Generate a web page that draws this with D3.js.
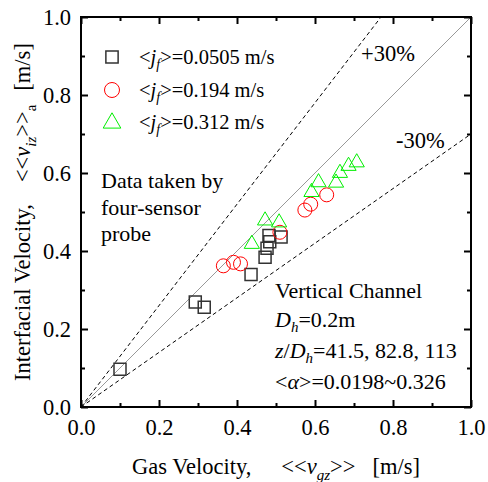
<!DOCTYPE html>
<html>
<head>
<meta charset="utf-8">
<script src="https://cdn.jsdelivr.net/npm/d3@7"></script>
<style>
  body { margin: 0; background: #fff; }
  svg text { font-family: "Liberation Serif", "Times New Roman", serif; white-space: pre; }
</style>
</head>
<body>
<div id="chart"></div>
<script>
// measured points [gas velocity, interfacial velocity]
const squares = [[0.100, 0.097], [0.293, 0.269], [0.316, 0.256], [0.436, 0.340], [0.472, 0.384],
  [0.477, 0.407], [0.484, 0.424], [0.482, 0.440], [0.513, 0.436]]
const circles = [[0.365, 0.362], [0.391, 0.371], [0.409, 0.367], [0.510, 0.448],
  [0.574, 0.505], [0.589, 0.520], [0.630, 0.544]]
const triangles = [[0.438, 0.418], [0.472, 0.478], [0.508, 0.473], [0.591, 0.551], [0.609, 0.576],
  [0.654, 0.575], [0.664, 0.600], [0.686, 0.618], [0.707, 0.627]]
const legendValues = ['0.0505', '0.194', '0.312']
const majorTicks = [0, 0.2, 0.4, 0.6, 0.8, 1.0]
const minorTicks = [0.1, 0.3, 0.5, 0.7, 0.9]
const bandRatios = [1.3, 0.7]

const width = 488, height = 482
const x = d3.scaleLinear().domain([0, 1]).range([81, 471])
const y = d3.scaleLinear().domain([0, 1]).range([407, 17])

const svg = d3.select('#chart').append('svg')
  .attr('width', width).attr('height', height)

// reference lines
svg.append('line')
  .attr('x1', x(0)).attr('y1', y(0)).attr('x2', x(1)).attr('y2', y(1))
  .attr('stroke', '#999').attr('stroke-width', 1)

svg.selectAll('.band').data(bandRatios).join('line')
  .attr('x1', x(0)).attr('y1', y(0))
  .attr('x2', r => x(Math.min(1, 1 / r)))
  .attr('y2', r => y(Math.min(1, r)))
  .attr('stroke', '#000').attr('stroke-width', 1)
  .attr('stroke-dasharray', '4,3')

// markers
const symSquare = d3.symbol(d3.symbolSquare, 144)
const symTri = d3.symbol(d3.symbolTriangle, 100)

svg.append('g').selectAll('path').data(squares).join('path')
  .attr('d', symSquare)
  .attr('transform', d => `translate(${x(d[0])},${y(d[1])})`)
  .attr('fill', 'none').attr('stroke', '#333').attr('stroke-width', 1.5)

svg.append('g').selectAll('circle').data(circles).join('circle')
  .attr('cx', d => x(d[0])).attr('cy', d => y(d[1])).attr('r', 7)
  .attr('fill', 'none').attr('stroke', '#ff0000').attr('stroke-width', 1)

svg.append('g').selectAll('path').data(triangles).join('path')
  .attr('d', symTri)
  .attr('transform', d => `translate(${x(d[0])},${y(d[1])})`)
  .attr('fill', 'none').attr('stroke', '#00ee00').attr('stroke-width', 1)

// axes (ticks inside, mirrored)
function addAxis(axis, tx, ty, labels) {
  const g = svg.append('g').attr('transform', `translate(${tx},${ty})`)
  g.call(axis.tickValues(minorTicks).tickSize(-4).tickFormat(''))
  const g2 = svg.append('g').attr('transform', `translate(${tx},${ty})`)
  g2.call(axis.tickValues(majorTicks).tickSize(-7).tickPadding(10).tickFormat(labels ? d3.format('.1f') : ''))
  ;[g, g2].forEach(gg => {
    gg.select('.domain').remove()
    gg.selectAll('line').attr('stroke', '#000').attr('stroke-width', 2)
    gg.selectAll('text').style('font-size', '22.5px').attr('fill', '#000')
  })
  return g2
}
const bx = addAxis(d3.axisBottom(x), 0, y(0), true)
bx.selectAll('text').attr('dy', '0.8em')
addAxis(d3.axisTop(x), 0, y(1), false)
addAxis(d3.axisLeft(y), x(0), 0, true)
addAxis(d3.axisRight(y), x(1), 0, false)

svg.append('rect')
  .attr('x', x(0)).attr('y', y(1)).attr('width', x(1) - x(0)).attr('height', y(0) - y(1))
  .attr('fill', 'none').attr('stroke', '#000').attr('stroke-width', 2)

// axis titles
const xt = svg.append('text').attr('x', 276).attr('y', 474)
  .attr('text-anchor', 'middle').style('font-size', '22.5px')
xt.append('tspan').text('Gas Velocity,')
xt.append('tspan').attr('dx', 30).text('<<')
xt.append('tspan').attr('font-style', 'italic').text('v')
xt.append('tspan').attr('font-style', 'italic').style('font-size', '15px').attr('dy', 6).text('gz')
xt.append('tspan').attr('dy', -6).text('>>')
xt.append('tspan').attr('dx', 17).text('[m/s]')

const yt = svg.append('text')
  .attr('transform', `translate(30,${(y(0) + y(1)) / 2}) rotate(-90)`)
  .attr('text-anchor', 'middle').style('font-size', '22.5px')
yt.append('tspan').text('Interfacial Velocity,')
yt.append('tspan').attr('dx', 22).text('<<')
yt.append('tspan').attr('font-style', 'italic').text('v')
yt.append('tspan').attr('font-style', 'italic').style('font-size', '15px').attr('dy', 6).text('iz')
yt.append('tspan').attr('dy', -6).text('>>')
yt.append('tspan').style('font-size', '15px').attr('dy', 6).text('a')
yt.append('tspan').attr('dy', -6).attr('dx', 14).text('[m/s]')

// band labels
svg.append('text').attr('x', 361).attr('y', 61).style('font-size', '22.5px').text('+30%')
svg.append('text').attr('x', 396).attr('y', 148).style('font-size', '22.5px').text('-30%')

// legend
const legendRows = [
  { y: 57, mark: 'square' },
  { y: 90, mark: 'circle' },
  { y: 122, mark: 'triangle' },
]
legendRows.forEach((row, i) => {
  if (row.mark === 'square') {
    svg.append('path').attr('d', d3.symbol(d3.symbolSquare, 150))
      .attr('transform', `translate(112,${row.y})`)
      .attr('fill', 'none').attr('stroke', '#333').attr('stroke-width', 1.5)
  } else if (row.mark === 'circle') {
    svg.append('circle').attr('cx', 112).attr('cy', row.y).attr('r', 7.5)
      .attr('fill', 'none').attr('stroke', '#ff0000').attr('stroke-width', 1)
  } else {
    svg.append('path').attr('d', d3.symbol(d3.symbolTriangle, 135))
      .attr('transform', `translate(112,${row.y + 1})`)
      .attr('fill', 'none').attr('stroke', '#00ee00').attr('stroke-width', 1)
  }
  const t = svg.append('text').attr('x', 139).attr('y', row.y + 7).style('font-size', '20.5px')
  t.append('tspan').text('<')
  t.append('tspan').attr('font-style', 'italic').text('j')
  t.append('tspan').attr('font-style', 'italic').style('font-size', '14px').attr('dy', 5).text('f')
  t.append('tspan').attr('dy', -5).text('>=' + legendValues[i] + ' m/s')
})

// notes
const note1 = ['Data taken by', 'four-sensor', 'probe']
note1.forEach((s, i) => {
  svg.append('text').attr('x', 101).attr('y', 188 + i * 26.5).style('font-size', '22px').text(s)
})

const n = svg.append('g').style('font-size', '22px')
n.append('text').attr('x', 275).attr('y', 298).text('Vertical Channel')
const l2 = n.append('text').attr('x', 275).attr('y', 327)
l2.append('tspan').attr('font-style', 'italic').text('D')
l2.append('tspan').attr('font-style', 'italic').style('font-size', '15px').attr('dy', 5).text('h')
l2.append('tspan').attr('dy', -5).text('=0.2m')
const l3 = n.append('text').attr('x', 275).attr('y', 358)
l3.append('tspan').attr('font-style', 'italic').text('z')
l3.append('tspan').text('/')
l3.append('tspan').attr('font-style', 'italic').text('D')
l3.append('tspan').attr('font-style', 'italic').style('font-size', '15px').attr('dy', 5).text('h')
l3.append('tspan').attr('dy', -5).text('=41.5, 82.8, 113')
const l4 = n.append('text').attr('x', 275).attr('y', 389)
l4.append('tspan').text('<')
l4.append('tspan').attr('font-style', 'italic').text('α')
l4.append('tspan').text('>=0.0198~0.326')
</script>
</body>
</html>
